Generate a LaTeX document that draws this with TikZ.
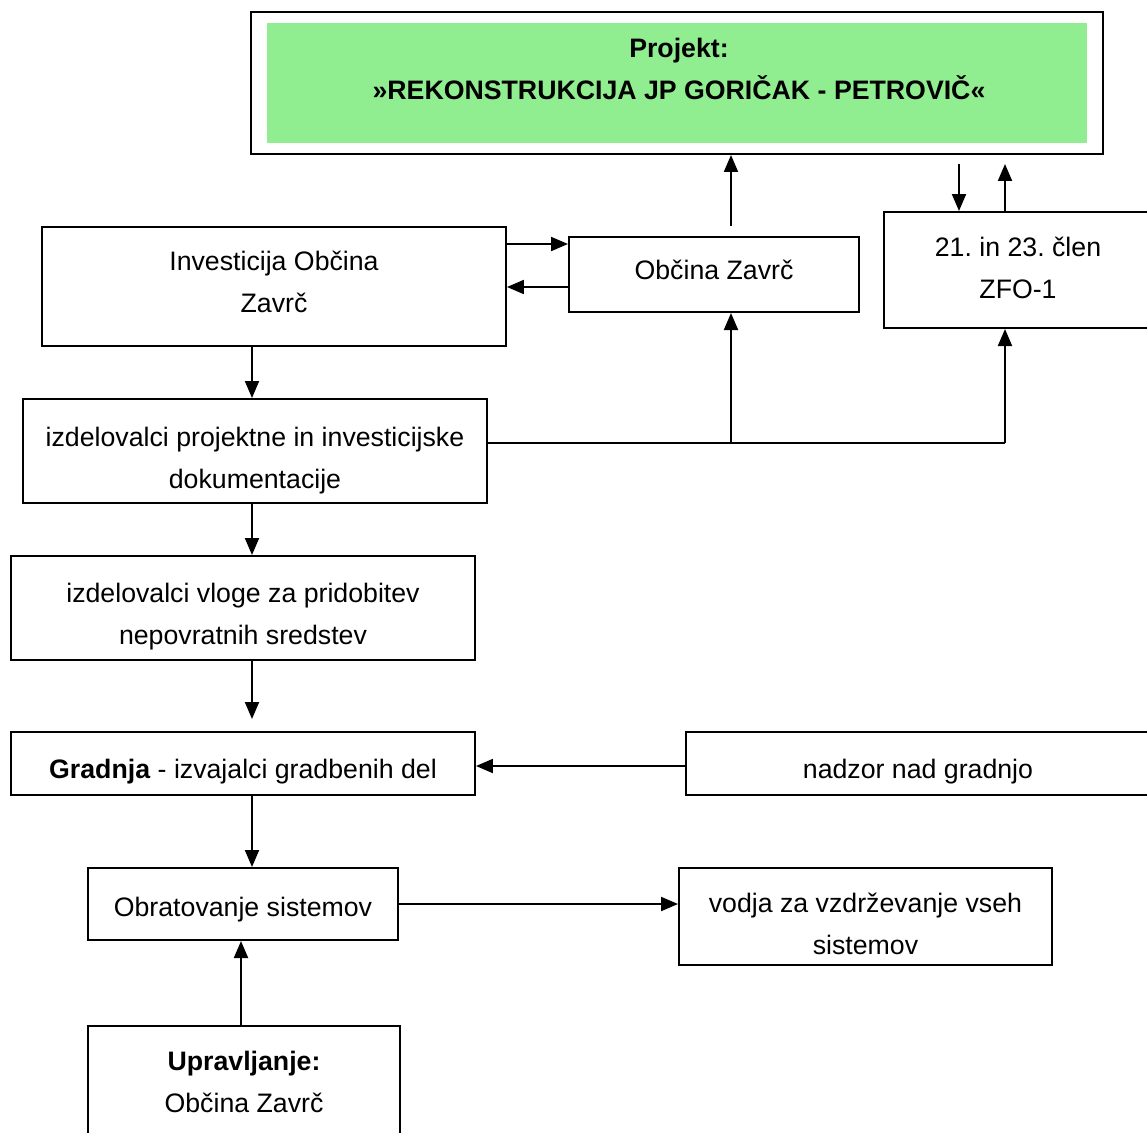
\documentclass[tikz,border=0pt]{standalone}
\usepackage{fontspec}
\setmainfont{Liberation Sans}
\usepackage{tikz}
\usetikzlibrary{positioning,arrows.meta}
\definecolor{projgreen}{HTML}{90EE90}
\frenchspacing
% lines of a box, moved up or down without changing the box
\newcommand{\boxtext}[2]{\raisebox{#1}[\height][\depth]{\begin{tabular}{@{}c@{}}#2\end{tabular}}}

\begin{document}
\begin{tikzpicture}[
  x=0.02cm, y=-0.02cm,
  box/.style={draw,rectangle,line width=1.15pt,inner sep=2pt,
    font=\fontsize{15.2pt}{23.9pt}\selectfont},
  arr/.style={draw,line width=1.15pt,-{Triangle[length=0.34cm,width=0.28cm]}},
]
  \useasboundingbox (0,0) rectangle (1147,1133);

  % Project header
  \node[box,minimum width=17.04cm,minimum height=2.84cm] (proj) at (677,83) {};
  \node[fill=projgreen,minimum width=16.4cm,minimum height=2.4cm] (projfill) at (677,83) {};
  \node[align=center,font=\fontsize{15.2pt}{23.9pt}\selectfont\bfseries] (projtxt) at (679,69)
    {Projekt:\\»REKONSTRUKCIJA JP GORIČAK - PETROVIČ«};

  % Upper row
  \node[box,minimum width=9.28cm,minimum height=2.38cm] (inv) at (274,286.5)
    {\boxtext{0.06cm}{Investicija Občina\\Zavrč}};
  \node[box,minimum width=5.8cm,minimum height=1.5cm] (obc) at (714,274.5)
    {\boxtext{0.06cm}{Občina Zavrč}};
  \node[box,minimum width=5.36cm,minimum height=2.32cm] (zfo) at (1018,270)
    {\boxtext{0.02cm}{21. in 23. člen\\ZFO-1}};

  % Main column
  \node[box,minimum width=9.28cm,minimum height=2.08cm] (izp) at (255,451)
    {\boxtext{-0.16cm}{izdelovalci projektne in investicijske\\dokumentacije}};
  \node[box,minimum width=9.28cm,minimum height=2.08cm] (vlo) at (243,608)
    {\boxtext{-0.14cm}{izdelovalci vloge za pridobitev\\nepovratnih sredstev}};
  \node[box,minimum width=9.28cm,minimum height=1.26cm] (gra) at (243,763.5)
    {\boxtext{-0.14cm}{\textbf{Gradnja} - izvajalci gradbenih del}};
  \node[box,minimum width=9.28cm,minimum height=1.26cm] (nad) at (918,763.5)
    {\boxtext{-0.14cm}{nadzor nad gradnjo}};
  \node[box,minimum width=6.2cm,minimum height=1.44cm] (obr) at (243,904)
    {\boxtext{-0.08cm}{Obratovanje sistemov}};
  \node[box,minimum width=7.46cm,minimum height=1.94cm] (vod) at (865.5,916.5)
    {\boxtext{-0.18cm}{vodja za vzdrževanje vseh\\sistemov}};
  \node[box,minimum width=6.24cm,minimum height=2.28cm] (upr) at (244,1083)
    {\boxtext{0cm}{\textbf{Upravljanje:}\\Občina Zavrč}};

  % Helper columns and bus points
  \coordinate (colA) at (252,0);
  \coordinate (colB) at (731,0);
  \coordinate (colC) at (959,0);
  \coordinate (colD) at (1005,0);
  \coordinate (colE) at (241,0);
  \coordinate (rowA) at (0,244);
  \coordinate (rowB) at (0,287);
  \coordinate (rowC) at (0,766);
  \coordinate (bus1) at (731,443);
  \coordinate (bus2) at (1005,443);

  % Edges: upper part
  \path[arr] (inv.east |- rowA) -- (obc.west |- rowA);
  \path[arr] (obc.west |- rowB) -- (inv.east |- rowB);
  \path[arr] ([yshift=0.2cm]obc.north -| colB) -- (proj.south -| colB);
  \path[arr] ([yshift=-0.18cm]proj.south -| colC) -- (zfo.north -| colC);
  \path[arr] (zfo.north -| colD) -- ([yshift=-0.18cm]proj.south -| colD);

  % Edges: documentation bus
  \draw[line width=1.15pt] (izp.east |- bus1) -- (bus2);
  \path[arr] (bus1) -- (bus1 |- obc.south);
  \path[arr] (bus2) -- (bus2 |- zfo.south);

  % Edges: main column
  \path[arr] (inv.south -| colA) -- (izp.north -| colA);
  \path[arr] (izp.south -| colA) -- (vlo.north -| colA);
  \path[arr] (vlo.south -| colA) -- ([yshift=0.24cm]gra.north -| colA);
  \path[arr] (nad.west |- rowC) -- (gra.east |- rowC);
  \path[arr] (gra.south -| colA) -- (obr.north -| colA);
  \path[arr] (obr.east) -- (obr.east -| vod.west);
  \path[arr] (upr.north -| colE) -- (obr.south -| colE);
\end{tikzpicture}
\end{document}
